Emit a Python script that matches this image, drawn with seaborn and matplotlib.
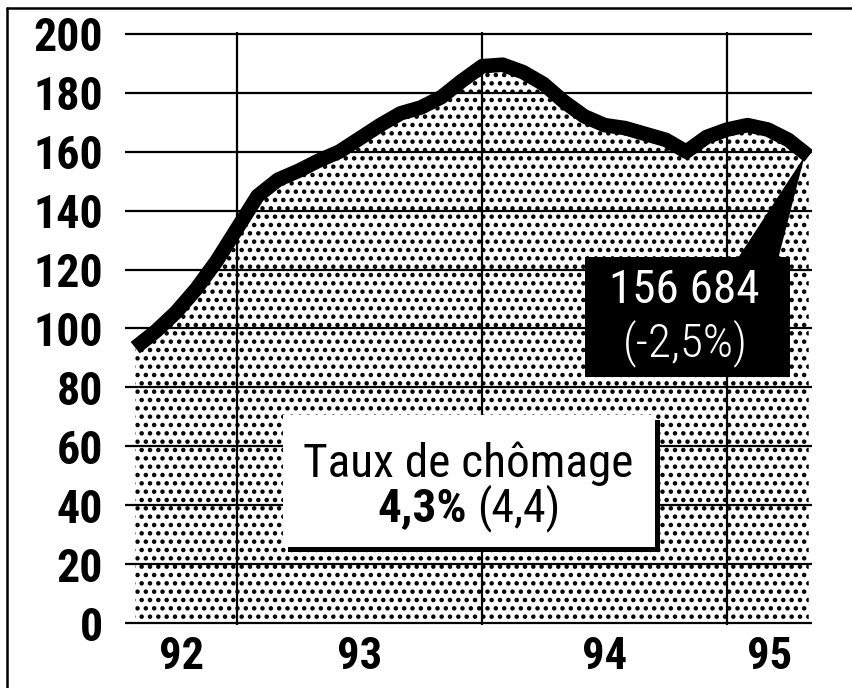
import matplotlib
matplotlib.use("Agg")
import matplotlib.pyplot as plt
from matplotlib import font_manager as fm
from matplotlib.patches import Rectangle, Polygon
from matplotlib.lines import Line2D
import seaborn as sns
import pandas as pd

# ---- data (thousands of job seekers, monthly, Aug 1992 .. May 1995) ----
months = list(range(7, 41))  # months counted from Jan 1992 (0)
values = [93.5, 99, 105.5, 113.5, 123, 134, 145, 150.5, 153.5, 157,
          160, 164.5, 169, 173, 175, 178.5, 184, 189, 189.5, 187,
          183, 177, 172, 169, 168, 166, 164, 160, 165, 167.5,
          169, 167.5, 164, 158.5]
year_labels = ["92", "93", "94", "95"]
year_starts = [0, 12, 24, 36]
y_ticks = [0, 20, 40, 60, 80, 100, 120, 140, 160, 180, 200]
label_value = "156 684"
label_change = "(-2,5%)"
box_title = "Taux de chômage"
box_rate = "4,3%"
box_prev = "(4,4)"

sns.set_theme(style="white", rc={"text.color": "black", "xtick.color": "black",
                                 "ytick.color": "black", "axes.labelcolor": "black"})
names = {f.name for f in fm.fontManager.ttflist}
COND = "Roboto Condensed" if "Roboto Condensed" in names else "DejaVu Sans"
FAM = [COND, "DejaVu Sans"]
plt.rcParams["font.family"] = FAM
plt.rcParams["hatch.linewidth"] = 2.0

df = pd.DataFrame({"month": months, "value": values})

fig = plt.figure(figsize=(8.52, 6.88), dpi=100)
ax = fig.add_axes([125 / 852, 1 - 625 / 688, 687 / 852, 593 / 688])

xlim = (6.5, 40.16)
ax.set_xlim(*xlim)
ax.set_ylim(-0.6, 200.6)

# stippled area
ax.fill_between(df["month"], 0, df["value"], facecolor="white", edgecolor="black",
                hatch="..", linewidth=0, zorder=1)
# thick line
sns.lineplot(data=df, x="month", y="value", color="black", linewidth=10.5,
             solid_capstyle="butt", solid_joinstyle="round", ax=ax, zorder=3)

# ticks and grid
ax.set_yticks(y_ticks)
ax.set_yticklabels([str(t) for t in y_ticks], fontsize=33, fontweight="bold",
                   family=FAM, color="black")
ax.set_xticks(year_starts[1:])
ax.set_xticklabels([])
mids = []
for s in year_starts:
    a = max(s, xlim[0]); b = min(s + 12, xlim[1])
    mids.append((a + b) / 2)
ax.set_xticks(mids, minor=True)
ax.set_xticklabels(year_labels, minor=True, fontsize=32, fontweight="heavy",
                   family=FAM, color="black")
ax.tick_params(axis="both", which="both", length=0)
ax.tick_params(axis="y", pad=16)
ax.tick_params(axis="x", which="minor", pad=8)
ax.grid(True, which="major", color="black", linewidth=1.6)
ax.set_axisbelow(False)
for gl in ax.get_xgridlines() + ax.get_ygridlines():
    gl.set_zorder(2)
for sp in ax.spines.values():
    sp.set_visible(False)
ax.set_xlabel("")
ax.set_ylabel("")

# white box with shadow: "Taux de chômage"
bx0, bx1, by0, by1 = 14.25, 32.47, 26.0, 70.8
ax.add_patch(Rectangle((bx0 + 0.25, by0 - 1.7), bx1 - bx0, by1 - by0,
                       facecolor="black", edgecolor="none", zorder=4))
ax.add_patch(Rectangle((bx0, by0), bx1 - bx0, by1 - by0,
                       facecolor="white", edgecolor="none", zorder=5))
ax.text(23.31, 49.6, box_title, ha="center", va="baseline", fontsize=34,
        family=FAM, color="black", zorder=6)
ax.text(23.26, 34.7, box_rate, ha="right", va="baseline", fontsize=34,
        fontweight="bold", family=FAM, color="black", zorder=6)
ax.text(23.75, 34.7, box_prev, ha="left", va="baseline", fontsize=33,
        family=FAM, color="black", zorder=6)

# black label box with pointer to the last value
kx0, kx1, ky0, ky1 = 29.04, 39.08, 83.6, 124.1
ax.add_patch(Polygon([(36.5, ky1 - 0.5), (38.5, ky1 - 0.5), (months[-1] - 0.2, values[-1])],
                     closed=True, facecolor="black", edgecolor="none", zorder=6))
ax.add_patch(Rectangle((kx0, ky0), kx1 - kx0, ky1 - ky0,
                       facecolor="black", edgecolor="none", zorder=6))
ax.text(33.9, 108.6, label_value, ha="center", va="baseline", fontsize=34,
        family=FAM, color="white", zorder=7)
ax.text(33.95, 90.4, label_change, ha="center", va="baseline", fontsize=34,
        family=FAM, fontweight="light", color="white", zorder=7)

# outer frame (left and top)
fig.add_artist(Line2D([7 / 852, 7 / 852], [0, 1 - 8 / 688], color="black", linewidth=1.8))
fig.add_artist(Line2D([7 / 852, 1], [1 - 8 / 688, 1 - 8 / 688], color="black", linewidth=1.8))

fig.savefig("out.png", dpi=100, facecolor="white")
